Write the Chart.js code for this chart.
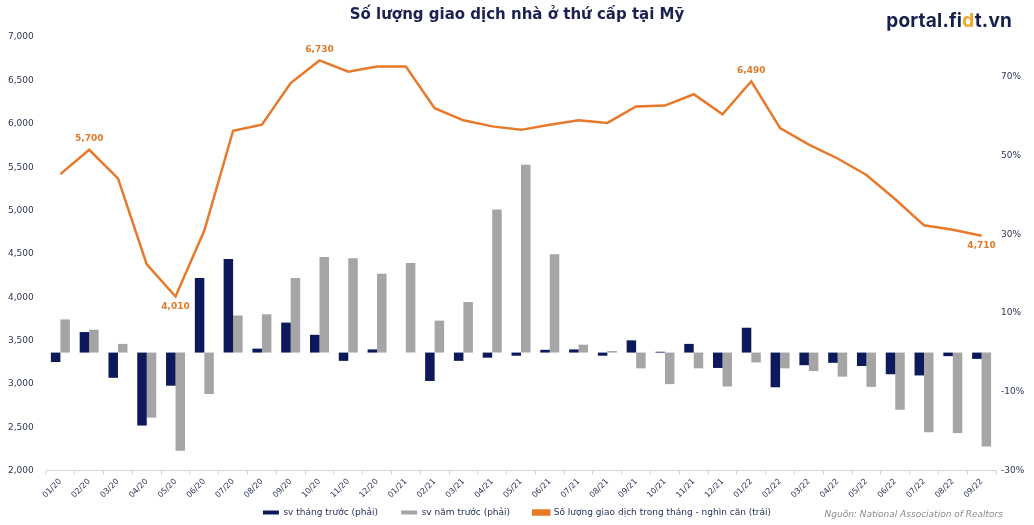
<!DOCTYPE html>
<html>
<head>
<meta charset="utf-8">
<script src="https://cdn.jsdelivr.net/npm/chart.js@4.4.0/dist/chart.umd.min.js"></script>
<style>
    html, body { margin: 0; padding: 0; background: #fff; }
    #wrap { position: relative; width: 1034px; height: 525px; overflow: hidden; }
    #title {
        position: absolute; top: 5px; left: 0; width: 1034px; text-align: center;
        font: bold 15px "DejaVu Sans", Verdana, sans-serif; color: #1b2150;
    }
    #logo {
        position: absolute; top: 9px; right: 22px;
        font: bold 19px Inter, "Noto Sans", sans-serif; color: #16204a; letter-spacing: 0.2px;
    }
    #logo span { color: #f2a52a; }
    #source {
        position: absolute; bottom: 6px; right: 31px;
        font: italic 9px "DejaVu Sans", Verdana, sans-serif; color: #8a8a8a;
    }
</style>
</head>
<body>
<div id="wrap">
    <canvas id="salesChart" width="1034" height="525"></canvas>
    <div id="title">Số lượng giao dịch nhà ở thứ cấp tại Mỹ</div>
    <div id="logo">portal.fi<span>d</span>t.vn</div>
    <div id="source">Nguồn: National Association of Realtors</div>
</div>
<script>
const months = ["01/20", "02/20", "03/20", "04/20", "05/20", "06/20", "07/20", "08/20", "09/20", "10/20", "11/20", "12/20",
    "01/21", "02/21", "03/21", "04/21", "05/21", "06/21", "07/21", "08/21", "09/21", "10/21", "11/21", "12/21",
    "01/22", "02/22", "03/22", "04/22", "05/22", "06/22", "07/22", "08/22", "09/22"];

// so luong giao dich (nghin can) - truc trai
const salesK = [5420, 5700, 5370, 4380, 4010, 4770, 5920, 5990, 6470, 6730, 6600, 6660,
    6660, 6180, 6040, 5970, 5930, 5990, 6040, 6010, 6200, 6210, 6340, 6110,
    6490, 5950, 5760, 5600, 5410, 5130, 4830, 4780, 4710];

// % so voi thang truoc - truc phai
const momPct = [-2.4, 5.2, -6.4, -18.5, -8.4, 18.9, 23.7, 1.0, 7.6, 4.5, -2.1, 0.8,
    0.0, -7.2, -2.1, -1.3, -0.8, 0.7, 0.8, -0.8, 3.1, 0.2, 2.2, -3.9,
    6.3, -8.8, -3.2, -2.6, -3.4, -5.5, -5.8, -0.9, -1.6];

// % so voi nam truoc - truc phai
const yoyPct = [8.4, 5.8, 2.2, -16.5, -24.9, -10.5, 9.4, 9.7, 18.9, 24.2, 23.9, 20.0,
    22.7, 8.1, 12.8, 36.3, 47.6, 24.9, 2.0, 0.4, -4.0, -8.0, -4.0, -8.6,
    -2.5, -4.0, -4.7, -6.1, -8.7, -14.5, -20.2, -20.4, -23.8];

const rightTicks = [-30, -10, 10, 30, 50, 70];
const labelledPoints = [1, 4, 9, 24, 32];
const labelsBelow = [4, 32];

const navy = "#0c1a5c";
const grey = "#a5a5a5";
const orange = "#e8792a";
const tickColor = "#2e3558";
const tickFont = { family: "DejaVu Sans", size: 9 };

const pointLabels = {
    id: "pointLabels",
    afterDatasetsDraw(chart) {
        const ctx = chart.ctx;
        const meta = chart.getDatasetMeta(2);
        ctx.save();
        ctx.font = "bold 9px 'DejaVu Sans'";
        ctx.fillStyle = "#e07a28";
        ctx.textAlign = "center";
        ctx.textBaseline = "middle";
        labelledPoints.forEach(function (i) {
            const pt = meta.data[i];
            const dy = labelsBelow.includes(i) ? 10 : -11;
            ctx.fillText(salesK[i].toLocaleString("en-US"), pt.x, pt.y + dy);
        });
        ctx.restore();
    }
};

// legend in dataset order, with wider gaps between items
function legendItems(chart) {
    const items = Chart.defaults.plugins.legend.labels.generateLabels(chart);
    items.sort(function (a, b) { return a.datasetIndex - b.datasetIndex; });
    items.forEach(function (it, i) {
        if (i < items.length - 1) it.text += "      ";
    });
    return items;
}

new Chart(document.getElementById("salesChart"), {
    type: "bar",
    data: {
        labels: months,
        datasets: [{
            label: "sv tháng trước (phải)",
            data: momPct,
            backgroundColor: navy,
            yAxisID: "y1",
            order: 1
        }, {
            label: "sv năm trước (phải)",
            data: yoyPct,
            backgroundColor: grey,
            yAxisID: "y1",
            order: 1
        }, {
            type: "line",
            label: "Số lượng giao dịch trong tháng - nghìn căn (trái)",
            data: salesK,
            borderColor: orange,
            backgroundColor: orange,
            borderWidth: 2.5,
            pointRadius: 0,
            tension: 0,
            yAxisID: "y",
            order: 0
        }]
    },
    options: {
        responsive: false,
        animation: false,
        layout: { padding: { top: 37, left: 8, right: 8, bottom: -2 } },
        datasets: {
            bar: { categoryPercentage: 0.66, barPercentage: 1.0 }
        },
        plugins: {
            legend: {
                position: "bottom",
                labels: {
                    boxWidth: 16,
                    boxHeight: 4,
                    padding: 6,
                    color: "#1f2a5a",
                    font: tickFont,
                    generateLabels: legendItems
                }
            },
            tooltip: { enabled: false }
        },
        scales: {
            x: {
                grid: { display: true, drawOnChartArea: false, tickLength: 4, color: "#d4d4d4" },
                border: { color: "#d4d4d4" },
                ticks: {
                    autoSkip: false,
                    minRotation: 45,
                    maxRotation: 45,
                    color: tickColor,
                    font: { family: "DejaVu Sans", size: 8 },
                    padding: 2
                },
                afterFit: function (scale) {
                    scale.paddingLeft = 0;
                    scale.paddingRight = 0;
                }
            },
            y: {
                position: "left",
                min: 2000,
                max: 7000,
                grid: { display: false, drawTicks: false },
                border: { display: false },
                ticks: {
                    stepSize: 500,
                    color: tickColor,
                    font: tickFont,
                    crossAlign: "far",
                    padding: 10,
                    callback: function (v) { return v.toLocaleString("en-US"); }
                },
                afterFit: function (scale) { scale.width = 38; }
            },
            y1: {
                position: "right",
                min: -30,
                max: 80,
                grid: { display: false, drawTicks: false },
                border: { display: false },
                afterBuildTicks: function (axis) {
                    axis.ticks = rightTicks.map(function (v) { return { value: v }; });
                },
                ticks: {
                    color: tickColor,
                    font: tickFont,
                    padding: 5,
                    callback: function (v) { return v + "%"; }
                },
                afterFit: function (scale) { scale.width = 30; }
            }
        }
    },
    plugins: [pointLabels]
});
</script>
</body>
</html>
